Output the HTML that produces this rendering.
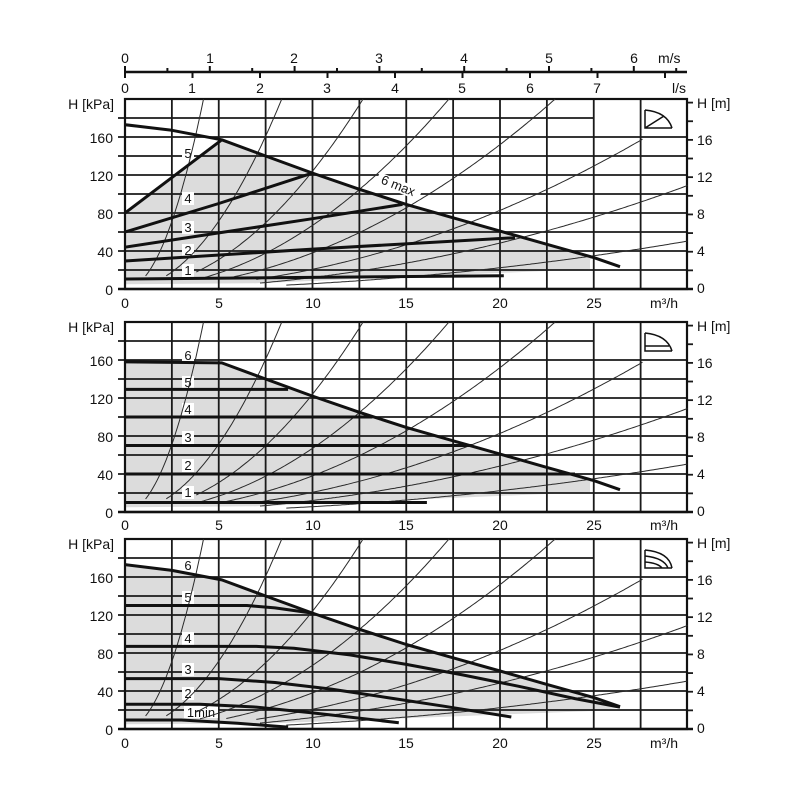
<!DOCTYPE html>
<html><head><meta charset="utf-8"><style>
html,body{margin:0;padding:0;background:#fff;width:800px;height:800px;overflow:hidden}
svg text{font-family:"Liberation Sans",sans-serif;fill:#111}
</style></head><body>
<svg id="s" width="800" height="800" viewBox="0 0 800 800" xmlns="http://www.w3.org/2000/svg">
<g id="bg"></g>
<g id="grid"></g>
<g id="lbl" font-size="13" text-anchor="middle">
<rect x="182" y="147" width="12" height="13" fill="#fff"/><text x="188" y="158">5</text>
<rect x="182" y="192" width="12" height="13" fill="#fff"/><text x="188" y="203">4</text>
<rect x="182" y="221" width="12" height="13" fill="#fff"/><text x="188" y="232">3</text>
<rect x="182" y="244" width="12" height="13" fill="#fff"/><text x="188" y="255">2</text>
<rect x="182" y="264" width="12" height="13" fill="#fff"/><text x="188" y="275">1</text>
<rect x="182" y="349" width="12" height="13" fill="#fff"/><text x="188" y="360">6</text>
<rect x="182" y="376" width="12" height="13" fill="#fff"/><text x="188" y="387">5</text>
<rect x="182" y="403" width="12" height="13" fill="#fff"/><text x="188" y="414">4</text>
<rect x="182" y="431" width="12" height="13" fill="#fff"/><text x="188" y="442">3</text>
<rect x="182" y="459" width="12" height="13" fill="#fff"/><text x="188" y="470">2</text>
<rect x="182" y="486" width="12" height="13" fill="#fff"/><text x="188" y="497">1</text>
<rect x="182" y="559" width="12" height="13" fill="#fff"/><text x="188" y="570">6</text>
<rect x="182" y="591" width="12" height="13" fill="#fff"/><text x="188" y="602">5</text>
<rect x="182" y="632" width="12" height="13" fill="#fff"/><text x="188" y="643">4</text>
<rect x="182" y="663" width="12" height="13" fill="#fff"/><text x="188" y="674">3</text>
<rect x="182" y="687" width="12" height="13" fill="#fff"/><text x="188" y="698">2</text>
<rect x="184" y="706" width="34" height="12" fill="#fff"/><text x="201" y="717">1min</text>
</g>
<g id="curves"></g>
<g id="txt" font-size="14">
<rect x="376" y="180" width="46" height="12" fill="#fff" transform="rotate(22 398 186)"/>
<text x="398" y="190" transform="rotate(22 398 186)" font-size="13" text-anchor="middle">6 max</text>
<text x="125" y="63" text-anchor="middle">0</text>
<text x="210" y="63" text-anchor="middle">1</text>
<text x="294" y="63" text-anchor="middle">2</text>
<text x="379" y="63" text-anchor="middle">3</text>
<text x="464" y="63" text-anchor="middle">4</text>
<text x="549" y="63" text-anchor="middle">5</text>
<text x="634" y="63" text-anchor="middle">6</text>
<text x="658" y="63">m/s</text>
<text x="125" y="93" text-anchor="middle">0</text>
<text x="192" y="93" text-anchor="middle">1</text>
<text x="260" y="93" text-anchor="middle">2</text>
<text x="327" y="93" text-anchor="middle">3</text>
<text x="395" y="93" text-anchor="middle">4</text>
<text x="462" y="93" text-anchor="middle">5</text>
<text x="530" y="93" text-anchor="middle">6</text>
<text x="597" y="93" text-anchor="middle">7</text>
<text x="672" y="93">l/s</text>
<text x="114" y="109" text-anchor="end">H [kPa]</text>
<text x="113" y="143" text-anchor="end">160</text>
<text x="113" y="181" text-anchor="end">120</text>
<text x="113" y="219" text-anchor="end">80</text>
<text x="113" y="257" text-anchor="end">40</text>
<text x="113" y="295" text-anchor="end">0</text>
<text x="697" y="108">H [m]</text>
<text x="697" y="145">16</text>
<text x="697" y="182">12</text>
<text x="697" y="219">8</text>
<text x="697" y="256">4</text>
<text x="697" y="293">0</text>
<text x="125" y="308" text-anchor="middle">0</text>
<text x="219" y="308" text-anchor="middle">5</text>
<text x="313" y="308" text-anchor="middle">10</text>
<text x="406" y="308" text-anchor="middle">15</text>
<text x="500" y="308" text-anchor="middle">20</text>
<text x="594" y="308" text-anchor="middle">25</text>
<text x="650" y="308">m³/h</text>
<text x="114" y="332" text-anchor="end">H [kPa]</text>
<text x="113" y="366" text-anchor="end">160</text>
<text x="113" y="404" text-anchor="end">120</text>
<text x="113" y="442" text-anchor="end">80</text>
<text x="113" y="480" text-anchor="end">40</text>
<text x="113" y="518" text-anchor="end">0</text>
<text x="697" y="331">H [m]</text>
<text x="697" y="368">16</text>
<text x="697" y="405">12</text>
<text x="697" y="442">8</text>
<text x="697" y="479">4</text>
<text x="697" y="516">0</text>
<text x="125" y="530" text-anchor="middle">0</text>
<text x="219" y="530" text-anchor="middle">5</text>
<text x="313" y="530" text-anchor="middle">10</text>
<text x="406" y="530" text-anchor="middle">15</text>
<text x="500" y="530" text-anchor="middle">20</text>
<text x="594" y="530" text-anchor="middle">25</text>
<text x="650" y="530">m³/h</text>
<text x="114" y="549" text-anchor="end">H [kPa]</text>
<text x="113" y="583" text-anchor="end">160</text>
<text x="113" y="621" text-anchor="end">120</text>
<text x="113" y="659" text-anchor="end">80</text>
<text x="113" y="697" text-anchor="end">40</text>
<text x="113" y="735" text-anchor="end">0</text>
<text x="697" y="548">H [m]</text>
<text x="697" y="585">16</text>
<text x="697" y="622">12</text>
<text x="697" y="659">8</text>
<text x="697" y="696">4</text>
<text x="697" y="733">0</text>
<text x="125" y="748" text-anchor="middle">0</text>
<text x="219" y="748" text-anchor="middle">5</text>
<text x="313" y="748" text-anchor="middle">10</text>
<text x="406" y="748" text-anchor="middle">15</text>
<text x="500" y="748" text-anchor="middle">20</text>
<text x="594" y="748" text-anchor="middle">25</text>
<text x="650" y="748">m³/h</text>
</g>
<g id="icons" fill="none" stroke="#111" stroke-width="1.5">
<path d="M645 110 L645 128 L672 128 M645 110 Q667 112 672 128 M645 128 L664 116"/>
<path d="M645 333 L645 351 L672 351 M645 333 Q667 335 672 351 M645 346 L669 346"/>
<path d="M645 550 L645 568 L672 568 M645 550 Q669 552 672 568 M645 556 Q664 558 668 568 M645 562 Q658 563 662 568"/>
</g>
</svg>
<script>
var NS="http://www.w3.org/2000/svg";
function el(g,t,a){var e=document.createElementNS(NS,t);for(var k in a)e.setAttribute(k,a[k]);document.getElementById(g).appendChild(e);return e;}
function X(q){return 125+18.75*q;}
var zeros=[289,512,729];
function pts(z,arr){return arr.map(function(p){return X(p[0]).toFixed(1)+","+(z-0.95*p[1]).toFixed(1)}).join(" ");}
var MAX=[[5.16,157],[7.5,140],[10,122],[12.5,105],[15,89],[17.5,75],[20,61],[22.5,47],[25,33],[26.4,23.5]];
var MAXF=[[0,173],[2.5,167]].concat(MAX);
el("grid","line",{x1:125,y1:72,x2:687,y2:72,stroke:"#111","stroke-width":2.5});
for(var v=0;v<=6.5;v+=0.5){var x=125+84.8*v;if(x>688)break;var maj=(v%1==0);el("grid","line",{x1:x,y1:maj?66:68,x2:x,y2:72,stroke:"#111","stroke-width":2});}
for(var l=0;l<=8;l++){var x=125+67.5*l;if(x>688)break;el("grid","line",{x1:x,y1:72,x2:x,y2:78,stroke:"#111","stroke-width":2});}
zeros.forEach(function(z,pi){
  var top=z-190;
  var up;
  if(pi==0){up=[[0,80]].concat(MAX.slice(0,9));up.push([24.8,31]);}
  else if(pi==1){up=[[0,158]].concat(MAX.slice(0,9));up.push([24.8,31]);}
  else {up=MAXF.slice();up.push([26.2,22]);}
  var lo=pi==2?[[25,19],[8,6],[0,5]]:[[24.8,21],[7,6],[0,5]];
  el("bg","polygon",{points:pts(z,up.concat(lo)),fill:"#dcdcdc"});
  for(var q=2.5;q<30;q+=2.5)el("grid","line",{x1:X(q),y1:top,x2:X(q),y2:z,stroke:"#1a1a1a","stroke-width":1.8});
  for(var h=20;h<200;h+=20){var y=z-0.95*h;el("grid","line",{x1:118,y1:y,x2:h==180?X(25):687,y2:y,stroke:"#1a1a1a","stroke-width":1.8});}
  for(var m=2;m<=20;m+=2){var y=z-9.32*m;if(y<top)break;el("grid","line",{x1:687,y1:y,x2:693,y2:y,stroke:"#1a1a1a","stroke-width":1.8});}
  el("grid","line",{x1:118,y1:z,x2:693,y2:z,stroke:"#111","stroke-width":2.5});
  el("grid","rect",{x:125,y:top,width:562,height:190,fill:"none",stroke:"#111","stroke-width":2.2});
  var ks=[11.4,2.86,1.24,0.67,0.38,0.207,0.121,0.056],st=[1.1,2.2,3.8,4.0,5.4,7.0,7.2,8.6];
  ks.forEach(function(k,i){var a=[];for(var q=st[i];q<=30.001;q+=0.1){var H=k*q*q;if(H>200){a.push([Math.sqrt(200/k),200]);break;}if(i==5&&q>27.7)break;a.push([q,H]);}
    el("curves","polyline",{points:pts(z,a),fill:"none",stroke:"#2a2a2a","stroke-width":1});});
  var thick=[];
  if(pi==0){thick=[MAXF,[[0,80],[5.16,157]],[[0,60],[5,90],[10,122]],[[0,44],[5,59],[10,74],[14.8,89]],[[0,29.5],[10,42],[20.8,54]],[[0,10.5],[20.2,14]]];}
  else if(pi==1){thick=[[[0,158]].concat(MAX),[[0,129],[8.7,129]],[[0,100],[13.2,100]],[[0,70],[18.5,70]],[[0,40],[24,40]],[[0,10],[16.1,10]]];}
  else {thick=[MAXF,[[0,130],[6.5,130],[8,127.5],[10,122]],[[0,87],[7,87],[9,85],[12,78],[15,68],[18,57],[21,45],[24,32],[26.4,23]],[[0,53],[5,53],[8,49],[11,42],[14,33],[17,24],[20.6,12.6]],[[0,26],[4,26],[7,23],[10,17],[14.6,6.6]],[[0,9.5],[3,9.5],[6,6],[8.7,2]]];}
  thick.forEach(function(a){el("curves","polyline",{points:pts(z,a),fill:"none",stroke:"#111","stroke-width":3,"stroke-linejoin":"round"});});
});
</script>
</body></html>
